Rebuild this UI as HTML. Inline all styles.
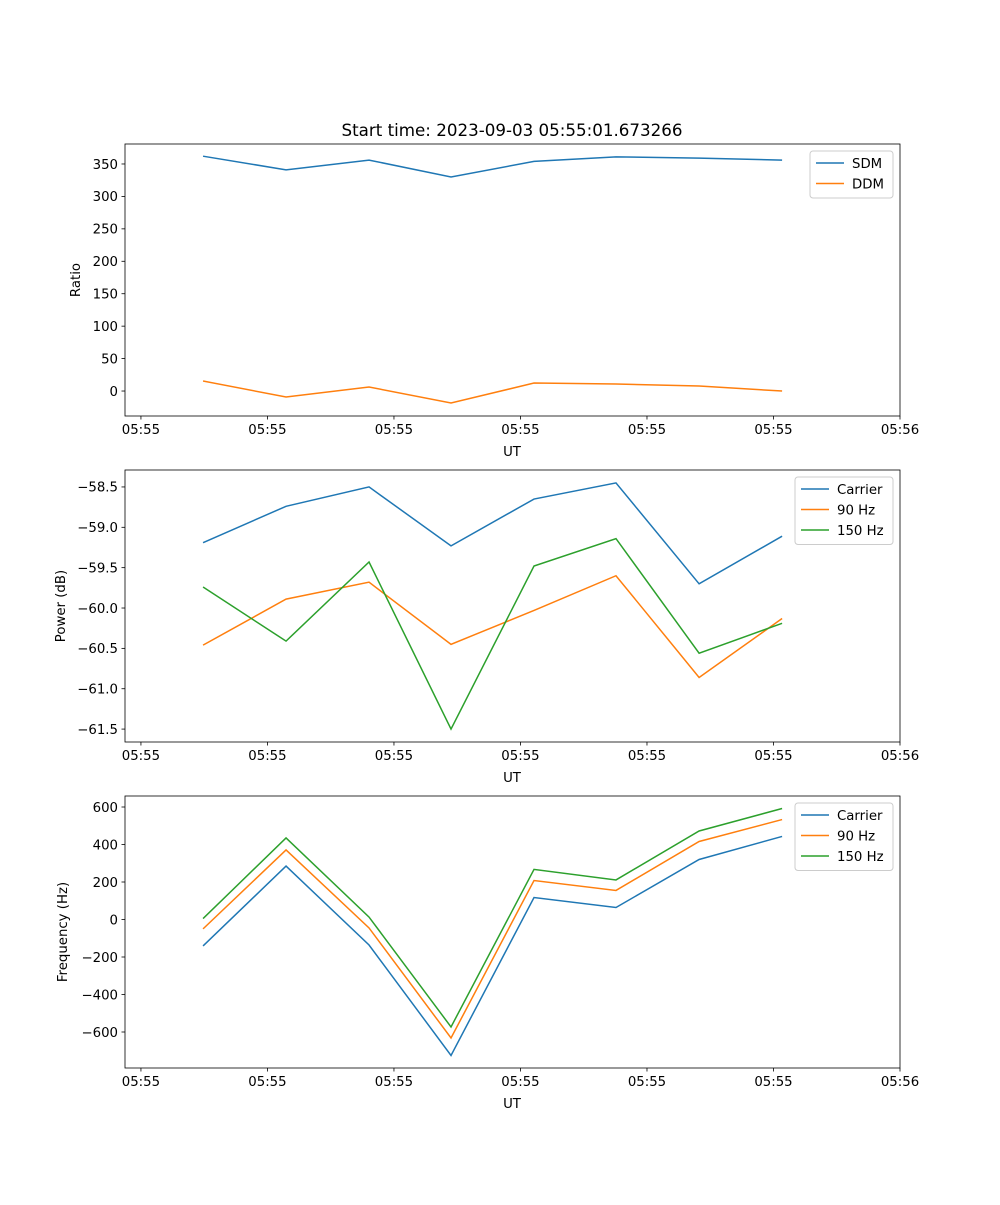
<!DOCTYPE html>
<html><head><meta charset="utf-8"><style>
body{margin:0;background:#fff}
svg text{font-family:"DejaVu Sans","Liberation Sans",sans-serif;fill:#000}
</style></head><body>
<svg id="fig" width="1000" height="1200" xmlns="http://www.w3.org/2000/svg">
<rect width="1000" height="1200" fill="#fff"/>
<text x="512" y="136" font-size="16.7" text-anchor="middle">Start time: 2023-09-03 05:55:01.673266</text>
</svg>
<script>
const times = [4.91, 11.47, 18.03, 24.51, 31.07, 37.55, 44.12, 50.68];
const xTicks = [0, 10, 20, 30, 40, 50, 60];
const xTickLabels = ["05:55","05:55","05:55","05:55","05:55","05:55","05:56"];
const sdm = [362, 341, 356, 330, 354, 361, 359, 356];
const ddm = [15.4, -9.2, 6.2, -18.5, 12.3, 10.8, 7.7, 0];
const powCarrier = [-59.19, -58.74, -58.50, -59.23, -58.65, -58.45, -59.70, -59.11];
const pow90 = [-60.46, -59.89, -59.68, -60.45, -60.03, -59.60, -60.86, -60.13];
const pow150 = [-59.74, -60.41, -59.43, -61.50, -59.48, -59.14, -60.56, -60.19];
const freqCarrier = [-141, 285, -136, -725, 117, 64, 320, 443];
const freq90 = [-50, 371, -45, -632, 208, 155, 416, 533];
const freq150 = [5, 435, 13, -573, 267, 211, 472, 592];
const ratioTicks = [0, 50, 100, 150, 200, 250, 300, 350];
const powTicks = [-61.5, -61.0, -60.5, -60.0, -59.5, -59.0, -58.5];
const freqTicks = [-600, -400, -200, 0, 200, 400, 600];

const NS = "http://www.w3.org/2000/svg";
const svg = document.getElementById('fig');
const C = ['#1f77b4', '#ff7f0e', '#2ca02c'];
function mk(tag, attrs, parent){const e=document.createElementNS(NS,tag);for(const k in attrs)e.setAttribute(k,attrs[k]);(parent||svg).appendChild(e);return e;}
const L=125,R=900,X0=-1.26,X1=60;
const xs=v=>L+(v-X0)/(X1-X0)*(R-L);

function panel(name, top, bottom, y0, y1, yTicks, fmt, ylabel, ylx, series, labels, legX, legW){
  const g=mk('g',{});
  
  
  const ys=v=>bottom-(v-y0)/(y1-y0)*(bottom-top);
  series.forEach((s,i)=>{
    const p=mk('polyline',{points:s.map((v,j)=>xs(times[j])+','+ys(v)).join(' '),fill:'none',stroke:C[i],'stroke-width':1.5},g);
    
    
  });
  mk('rect',{x:L,y:top,width:R-L,height:bottom-top,fill:'none',stroke:'#000','stroke-width':0.8},g);
  xTicks.forEach((t,i)=>{const x=xs(t);mk('line',{x1:x,x2:x,y1:bottom,y2:bottom+3.5,stroke:'#000','stroke-width':0.8},g);
    const tx=mk('text',{x:x,y:bottom+18,'font-size':13.3,'text-anchor':'middle'},g);tx.textContent=xTickLabels[i];
    
    });
  yTicks.forEach(t=>{const y=ys(t);mk('line',{x1:L,x2:L-3.5,y1:y,y2:y,stroke:'#000','stroke-width':0.8},g);
    const tx=mk('text',{x:L-7,y:y+4.8,'font-size':13.3,'text-anchor':'end'},g);tx.textContent=fmt(t);
    
    });
  const xl=mk('text',{x:512,y:bottom+40,'font-size':13.3,'text-anchor':'middle'},g);xl.textContent='UT';
  
  
  const cy=(top+bottom)/2;
  const yl=mk('text',{x:ylx,y:cy,'font-size':13.3,'text-anchor':'middle',transform:`rotate(-90 ${ylx} ${cy})`},g);yl.textContent=ylabel;
  
  
  const lg=mk('g',{},g);
  
  
  const lh=labels.length*20.5+6;
  mk('rect',{x:legX,y:top+7,width:legW,height:lh,rx:3,fill:'#fff','fill-opacity':0.8,stroke:'#ccc','stroke-width':1},lg);
  labels.forEach((lab,i)=>{const y=top+19+i*20.5;
    mk('line',{x1:legX+6,x2:legX+34,y1:y,y2:y,stroke:C[i],'stroke-width':1.5},lg);
    const t=mk('text',{x:legX+42,y:y+4.8,'font-size':13.3},lg);t.textContent=lab;
    
    });
}
panel('ratio',144,416,-38.5,380.8,ratioTicks,v=>String(v),'Ratio',80,[sdm,ddm],['SDM','DDM'],810,83);
panel('power',470,742,-61.66,-58.29,powTicks,v=>v.toFixed(1).replace('-','\u2212'),'Power (dB)',65,[powCarrier,pow90,pow150],['Carrier','90 Hz','150 Hz'],795,98);
panel('frequency',796,1068,-792,658.7,freqTicks,v=>String(v).replace('-','\u2212'),'Frequency (Hz)',67,[freqCarrier,freq90,freq150],['Carrier','90 Hz','150 Hz'],795,98);
</script>
</body></html>
